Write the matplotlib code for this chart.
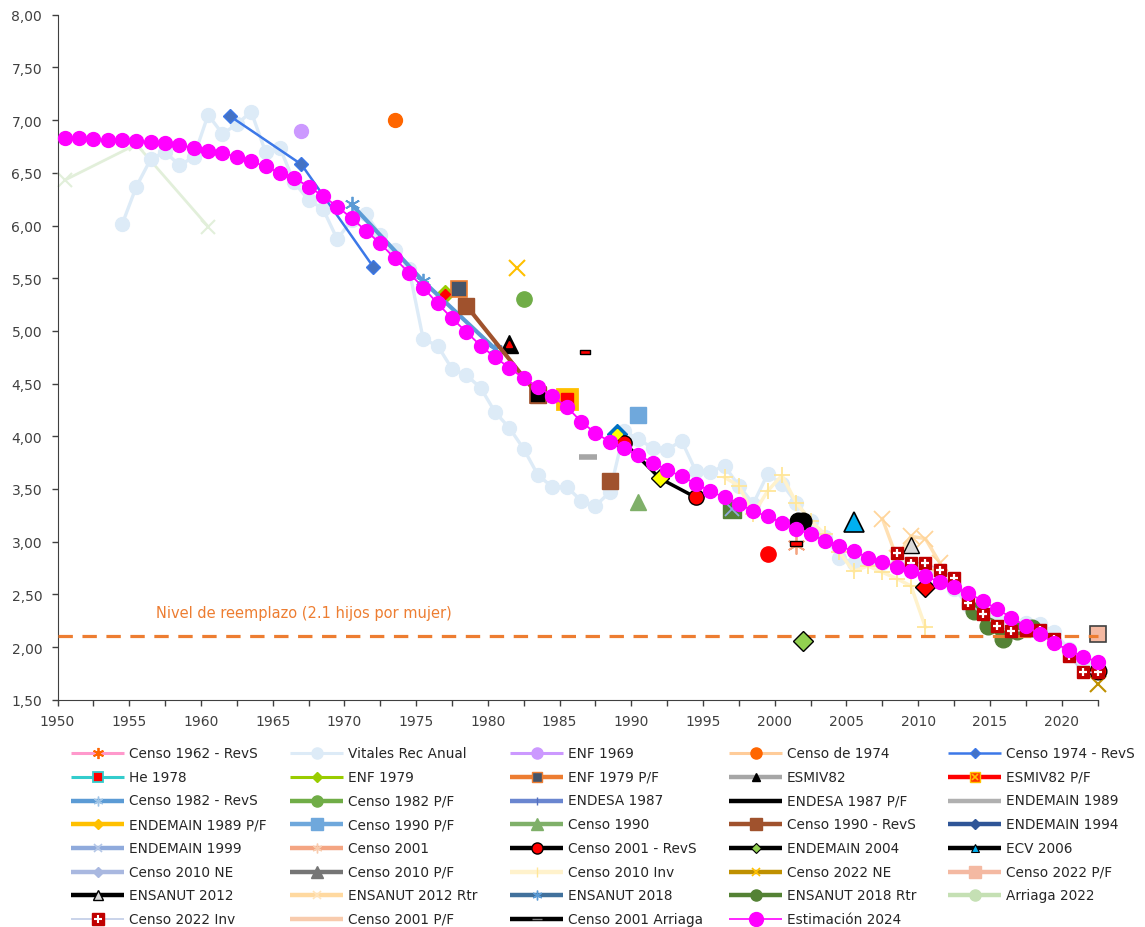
import numpy as np
import matplotlib
matplotlib.use("Agg")
from matplotlib import pyplot as plt
from matplotlib.lines import Line2D

plt.rcParams["font.family"] = "DejaVu Sans"

W, H = 1145, 928

# ---- data (TFR, hijos por mujer) ----
# annual series, plotted at mid-year
est_years = np.arange(1950, 2023)
est_tfr = [6.83, 6.83, 6.82, 6.81, 6.81, 6.80, 6.79, 6.78, 6.76, 6.74,
           6.71, 6.69, 6.65, 6.61, 6.56, 6.50, 6.45, 6.37, 6.28, 6.18,
           6.07, 5.95, 5.83, 5.69, 5.55, 5.41, 5.26, 5.12, 4.99, 4.86,
           4.75, 4.65, 4.55, 4.47, 4.38, 4.28, 4.14, 4.03, 3.95, 3.89,
           3.82, 3.75, 3.68, 3.62, 3.55, 3.48, 3.42, 3.36, 3.29, 3.24,
           3.18, 3.12, 3.07, 3.01, 2.96, 2.91, 2.85, 2.81, 2.76, 2.72,
           2.67, 2.62, 2.57, 2.51, 2.44, 2.36, 2.28, 2.20, 2.12, 2.04,
           1.97, 1.91, 1.86]

vitales_years = np.arange(1954, 2023)
vitales_tfr = [6.01, 6.37, 6.63, 6.70, 6.57, 6.65,
               7.05, 6.87, 6.96, 7.08, 6.70, 6.74, 6.41, 6.24, 6.16, 5.87,
               6.05, 6.11, 5.91, 5.77, 5.59, 4.92, 4.86, 4.64, 4.58, 4.46,
               4.23, 4.08, 3.88, 3.63, 3.52, 3.52, 3.39, 3.34, 3.47, 4.05,
               3.97, 3.89, 3.87, 3.96, 3.67, 3.66, 3.72, 3.53, 3.36, 3.64,
               3.55, 3.37, 3.20, 3.04, 2.85, 2.80, 2.83, 2.80, 2.78, 2.75,
               2.70, 2.62, 2.55, 2.40, 2.33, 2.26, 2.22, 2.23, 2.22, 2.14,
               1.98, 1.84, 1.80]

inv2010_years = np.arange(1996, 2011)
inv2010_tfr = [3.61, 3.53, 3.26, 3.48, 3.63, 3.37, 3.20, 3.07, 2.90, 2.72,
               2.77, 2.71, 2.65, 2.58, 2.19]

inv2022_years = np.arange(2008, 2023)
inv2022_tfr = [2.89, 2.80, 2.80, 2.73, 2.66, 2.42, 2.31, 2.20, 2.15, 2.16,
               2.16, 2.08, 1.92, 1.76, 1.76]

ensanut12rtr_years = np.arange(2007, 2012)
ensanut12rtr_tfr = [3.22, 2.85, 3.05, 3.03, 2.80]

# point estimates (reference date, TFR)
early_years, early_tfr = [1950.5, 1955.5, 1960.5], [6.43, 6.77, 5.99]
censo74revs_years, censo74revs_tfr = [1962, 1967, 1972], [7.04, 6.58, 5.61]
enf69_years, enf69_tfr = [1967], [6.90]
censo74_years, censo74_tfr = [1973.5], [7.00]
censo82revs_years, censo82revs_tfr = [1970.5, 1975.5, 1980.5], [6.20, 5.47, 4.83]
he78_years, he78_tfr = [1975.5], [5.42]
enf79_years, enf79_tfr = [1977], [5.35]
enf79pf_years, enf79pf_tfr = [1978], [5.40]
censo90revs_years, censo90revs_tfr = [1978.5, 1983.5], [5.24, 4.39]
censo90revs_late_years, censo90revs_late_tfr = [1988.5], [3.58]
censo82pf_years, censo82pf_tfr = [1982.5], [5.30]
gold_x_years, gold_x_tfr = [1982], [5.60]
esmiv82_years, esmiv82_tfr = [1981.5], [4.88]
endesa87pf_years, endesa87pf_tfr = [1986.75], [4.80]
endemain89pf_years, endemain89pf_tfr = [1985.5], [4.35]
endemain89_years, endemain89_tfr = [1987], [3.80]
censo90pf_years, censo90pf_tfr = [1990.5], [4.20]
censo90_years, censo90_tfr = [1990.5], [3.38]
endemain94_years, endemain94_tfr = [1989], [4.02]
censo01revs_years, censo01revs_tfr = [1989.5, 1992, 1994.5], [3.94, 3.60, 3.42]
red_dot_years, red_dot_tfr = [1999.5], [2.88]
endemain99_years, endemain99_tfr = [1997], [3.31]
censo01_years, censo01_tfr = [2001.5], [2.97]
arriaga01_years, arriaga01_tfr = [2001.5], [2.99]
black_dot_years, black_dot_tfr = [2001.6, 2002.0], [3.20, 3.20]
ecv06_years, ecv06_tfr = [2005.5], [3.19]
endemain04_years, endemain04_tfr = [2002], [2.06]
red_diamond_years, red_diamond_tfr = [2010.5], [2.57]
ensanut12_years, ensanut12_tfr = [2009.5], [2.97]
ensanut18rtr_years = [2013.9, 2014.9, 2015.9, 2016.9, 2017.9]
ensanut18rtr_tfr = [2.34, 2.20, 2.08, 2.15, 2.18]
censo22pf_years, censo22pf_tfr = [2022.5], [2.12]
censo22ne_years, censo22ne_tfr = [2022.5], [1.65]
red_ring_years, red_ring_tfr = [2022.5], [1.77]

replacement = 2.11

# ---- figure ----
fig = plt.figure(figsize=(W / 100, H / 100), dpi=100)
ax = fig.add_axes([57.5 / W, 1 - 700.8 / H, 1040 / W, 685.1 / H])

ax.axhline(replacement, color='#ED7D31', lw=2.3, ls=(0, (4.5, 3)), zorder=4)
ax.text(1956.9, 2.33, 'Nivel de reemplazo (2.1 hijos por mujer)', color='#ED7D31',
        fontsize=10.5, va='center', ha='left')

ax.plot(early_years, early_tfr, color='#E2EFDA', lw=2, marker='x', ms=10, mew=1.5, zorder=2)
ax.plot(vitales_years + 0.5, vitales_tfr, color='#DDEBF7', lw=2.4, marker='o', ms=10,
        mfc='#DDEBF7', mec='#DDEBF7', zorder=2)
ax.plot(enf69_years, enf69_tfr, ls='none', marker='o', ms=10, mfc='#CC99FF', mec='#CC99FF', zorder=3)
ax.plot(censo74_years, censo74_tfr, ls='none', marker='o', ms=10, mfc='#FF6600', mec='#FF6600', zorder=3)
ax.plot(censo74revs_years, censo74revs_tfr, color='#3C78E8', lw=1.8, marker='D', ms=7,
        mfc='#4472C4', mec='#3C78E8', zorder=3)
ax.plot(he78_years, he78_tfr, ls='none', marker='s', ms=7, mfc='#FF0000', mec='#33CCCC', mew=1.3, zorder=3)
ax.plot(enf79_years, enf79_tfr, ls='none', marker='D', ms=9, mfc='#99CC00', mec='#99CC00', zorder=3)
ax.plot(enf79_years, enf79_tfr, ls='none', marker='D', ms=5, mfc='#FF0000', mec='#FF0000', zorder=3.1)
ax.plot(enf79pf_years, enf79pf_tfr, ls='none', marker='s', ms=11, mfc='#44546A', mec='#ED7D31',
        mew=1.2, zorder=3)
ax.plot(esmiv82_years, esmiv82_tfr, ls='none', marker='^', ms=13, mfc='black', mec='black', zorder=3)
ax.plot(esmiv82_years, esmiv82_tfr, ls='none', marker='^', ms=5, mfc='#FF0000', mec='#FF0000', zorder=3.1)
ax.plot(censo82revs_years, censo82revs_tfr, color='#5B9BD5', lw=3, marker=(6, 2, 0), ms=11,
        mec='#5B9BD5', mew=1.3, zorder=3)
ax.plot(censo82pf_years, censo82pf_tfr, ls='none', marker='o', ms=11, mfc='#70AD47', mec='#70AD47', zorder=3)
ax.plot(gold_x_years, gold_x_tfr, ls='none', marker='x', ms=11, mec='#FFC000', mew=1.5, zorder=3)
dash_marker = [(-1, -0.4), (1, -0.4), (1, 0.4), (-1, 0.4), (-1, -0.4)]
ax.plot(endesa87pf_years, endesa87pf_tfr, ls='none', marker=dash_marker, ms=7, mfc='#FF0000',
        mec='black', mew=1, zorder=3)
ax.plot(endemain89_years, endemain89_tfr, ls='none', marker='_', ms=13, mec='#A6A6A6', mew=4, zorder=3)
ax.plot(endemain89pf_years, endemain89pf_tfr, ls='none', marker='s', ms=15, mfc='#FFC000',
        mec='#FFC000', mew=2, zorder=3)
ax.plot(endemain89pf_years, endemain89pf_tfr, ls='none', marker='s', ms=9, mfc='#FF0000',
        mec='#FF0000', zorder=3.1)
ax.plot(censo90pf_years, censo90pf_tfr, ls='none', marker='s', ms=11, mfc='#6FA8DC', mec='#6FA8DC', zorder=3)
ax.plot(censo90_years, censo90_tfr, ls='none', marker='^', ms=12, mfc='#7FB069', mec='#7FB069', zorder=3)
ax.plot(censo90revs_years, censo90revs_tfr, color='#A0522D', lw=3, marker='s', ms=12,
        mfc='#A0522D', mec='#A0522D', zorder=3)
ax.plot(censo90revs_years[-1:], censo90revs_tfr[-1:], ls='none', marker='s', ms=11, mfc='black',
        mec='#A0522D', mew=1.2, zorder=3.1)
ax.plot(censo90revs_late_years, censo90revs_late_tfr, ls='none', marker='s', ms=11, mfc='#A0522D',
        mec='#A0522D', zorder=3)
ax.plot(endemain94_years, endemain94_tfr, ls='none', marker='D', ms=10, mfc='#0070C0', mec='#0070C0', zorder=3)
ax.plot(endemain94_years, endemain94_tfr, ls='none', marker='D', ms=5, mfc='#FFFF00', mec='#FFFF00', zorder=3.1)
ax.plot(endemain99_years, endemain99_tfr, ls='none', marker='s', ms=13, mfc='#548235', mec='#548235', zorder=3)
ax.plot(endemain99_years, endemain99_tfr, ls='none', marker='x', ms=10, mec='#8FAADC', mew=1.3, zorder=3.1)
ax.plot(censo01revs_years, censo01revs_tfr, color='black', lw=2.5, marker='o', ms=11,
        mfc='#FF0000', mec='black', mew=1, markevery=[0, 2], zorder=3)
ax.plot(censo01revs_years[1:2], censo01revs_tfr[1:2], ls='none', marker='D', ms=9, mfc='#FFFF00',
        mec='black', mew=1, zorder=3.1)
ax.plot(red_dot_years, red_dot_tfr, ls='none', marker='o', ms=11, mfc='#FF0000', mec='#FF0000', zorder=3)
ax.plot(censo01_years, censo01_tfr, ls='none', marker=(6, 2, 0), ms=13, mec='#F4A582', mew=1.3, zorder=3)
ax.plot(arriaga01_years, arriaga01_tfr, ls='none', marker=dash_marker, ms=9, mfc='#FF0000',
        mec='black', mew=1, zorder=3.1)
ax.plot(black_dot_years, black_dot_tfr, ls='none', marker='o', ms=12, mfc='black', mec='black', zorder=3)
ax.plot(ecv06_years, ecv06_tfr, ls='none', marker='^', ms=14, mfc='#00B0F0', mec='black', mew=1.2, zorder=3)
ax.plot(endemain04_years, endemain04_tfr, ls='none', marker='D', ms=10, mfc='#92D050', mec='black',
        mew=1, zorder=5)
ax.plot(inv2010_years + 0.5, inv2010_tfr, color='#FFF2CC', lw=2.5, marker='+', ms=12, mec='#FFE699',
        mew=1.3, zorder=2.5)
ax.plot(ensanut12rtr_years + 0.5, ensanut12rtr_tfr, color='#FFE0B3', lw=2.5, marker='x', ms=11,
        mec='#FFD59A', mew=1.3, zorder=2.6)
ax.plot(ensanut12_years, ensanut12_tfr, ls='none', marker='^', ms=11, mfc='#D9D9D9', mec='black',
        mew=1, zorder=3)
ax.plot(red_diamond_years, red_diamond_tfr, ls='none', marker='D', ms=10, mfc='#FF0000', mec='black',
        mew=1, zorder=3)
ax.plot(ensanut18rtr_years, ensanut18rtr_tfr, color='#548235', lw=2.5, marker='o', ms=12,
        mfc='#548235', mec='#548235', zorder=3)
ax.plot(censo22pf_years, censo22pf_tfr, ls='none', marker='s', ms=12, mfc='#F4B9A2', mec='#404040',
        mew=1.2, zorder=3)
ax.plot(censo22ne_years, censo22ne_tfr, ls='none', marker='x', ms=12, mec='#BF9000', mew=1.5, zorder=3)
ax.plot(red_ring_years, red_ring_tfr, ls='none', marker='o', ms=12, mfc='#FF0000', mec='black', mew=1, zorder=3)
ax.plot(inv2022_years + 0.5, inv2022_tfr, color='#C9D3EA', lw=1.2, marker='s', ms=8.5,
        mfc='#C00000', mec='#C00000', zorder=5)
ax.plot(inv2022_years + 0.5, inv2022_tfr, ls='none', marker='+', ms=6, mec='white', mew=1.6, zorder=5.1)
ax.plot(est_years + 0.5, est_tfr, color='#FF00FF', lw=1.3, marker='o', ms=10,
        mfc='#FF00FF', mec='#FF00FF', zorder=6)

# markers at the edges are not cut off in the original
for ln in ax.lines:
    ln.set_clip_on(False)

# ---- axes ----
ax.set_xlim(1950, 2022.5)
ax.set_ylim(1.5, 8)
xt = np.arange(1950, 2023, 2.5)
ax.set_xticks(xt)
ax.set_xticklabels([str(int(t)) if t % 5 == 0 else '' for t in xt])
yt = np.arange(1.5, 8.01, 0.5)
ax.set_yticks(yt)
ax.set_yticklabels([('%.2f' % t).replace('.', ',') for t in yt])
for s in ['top', 'right']:
    ax.spines[s].set_visible(False)
for s in ['left', 'bottom']:
    ax.spines[s].set_color('#404040')
ax.tick_params(axis='both', direction='out', length=4, width=1, color='#404040',
               labelsize=10, labelcolor='#404040')
ax.tick_params(axis='y', pad=7)
ax.tick_params(axis='x', pad=6)

# ---- legend (drawn by hand, 5 columns x 8 rows) ----
legend_items = [
    ("Censo 1962 - RevS", '#FF99CC', 2.2, [dict(marker=(6, 2, 0), ms=8, mec='#FF6600', mew=1.3)]),
    ("Vitales Rec Anual", '#DDEBF7', 2.2, [dict(marker='o', ms=8, mfc='#DDEBF7', mec='#DDEBF7')]),
    ("ENF 1969", '#CC99FF', 2.2, [dict(marker='o', ms=8, mfc='#CC99FF', mec='#CC99FF')]),
    ("Censo de 1974", '#FFCC99', 2.2, [dict(marker='o', ms=8, mfc='#FF6600', mec='#FF6600')]),
    ("Censo 1974 - RevS", '#3C78E8', 1.8, [dict(marker='D', ms=5, mfc='#4472C4', mec='#3C78E8')]),
    ("He 1978", '#33CCCC', 2.2, [dict(marker='s', ms=7, mfc='#FF0000', mec='#33CCCC', mew=1.3)]),
    ("ENF 1979", '#99CC00', 2.2, [dict(marker='D', ms=5, mfc='#99CC00', mec='#99CC00')]),
    ("ENF 1979 P/F", '#ED7D31', 3.2, [dict(marker='s', ms=7, mfc='#44546A', mec='#ED7D31', mew=1)]),
    ("ESMIV82", '#A6A6A6', 3.2, [dict(marker='^', ms=6, mfc='black', mec='black')]),
    ("ESMIV82 P/F", '#FF0000', 3.2, [dict(marker='s', ms=7, mfc='#FF3300', mec='#FFC000', mew=1),
                                     dict(marker='x', ms=5, mec='#FFC000', mew=1.2)]),
    ("Censo 1982 - RevS", '#5B9BD5', 3.2, [dict(marker=(6, 2, 0), ms=7, mec='#9DC3E6', mew=1)]),
    ("Censo 1982 P/F", '#70AD47', 3.2, [dict(marker='o', ms=8, mfc='#70AD47', mec='#70AD47')]),
    ("ENDESA 1987", '#6A86D0', 3.2, [dict(marker='|', ms=6, mec='#5470C0', mew=1)]),
    ("ENDESA 1987 P/F", 'black', 3.2, []),
    ("ENDEMAIN 1989", '#B0B0B0', 3.2, []),
    ("ENDEMAIN 1989 P/F", '#FFC000', 3.2, [dict(marker='D', ms=5, mfc='#FFC000', mec='#FFC000')]),
    ("Censo 1990 P/F", '#6FA8DC', 3.2, [dict(marker='s', ms=8, mfc='#6FA8DC', mec='#6FA8DC')]),
    ("Censo 1990", '#7FB069', 3.2, [dict(marker='^', ms=8, mfc='#7FB069', mec='#7FB069')]),
    ("Censo 1990 - RevS", '#A0522D', 3.2, [dict(marker='s', ms=8, mfc='#A0522D', mec='#A0522D')]),
    ("ENDEMAIN 1994", '#2F5597', 3.2, [dict(marker='D', ms=5, mfc='#2F5597', mec='#2F5597')]),
    ("ENDEMAIN 1999", '#8FAADC', 3.2, [dict(marker='x', ms=6, mec='#B4C7E7', mew=1.2)]),
    ("Censo 2001", '#F4A582', 3.2, [dict(marker=(6, 2, 0), ms=7, mec='#F8CBAD', mew=1)]),
    ("Censo 2001 - RevS", 'black', 3.2, [dict(marker='o', ms=8, mfc='#FF0000', mec='black', mew=1)]),
    ("ENDEMAIN 2004", 'black', 3.2, [dict(marker='D', ms=5, mfc='#92D050', mec='black', mew=0.8)]),
    ("ECV 2006", 'black', 3.2, [dict(marker='^', ms=6, mfc='#00B0F0', mec='black', mew=0.8)]),
    ("Censo 2010 NE", '#A9B8E0', 3.2, [dict(marker='D', ms=5, mfc='#A9B8E0', mec='#A9B8E0')]),
    ("Censo 2010 P/F", '#757575', 3.2, [dict(marker='^', ms=8, mfc='#757575', mec='#757575')]),
    ("Censo 2010 Inv", '#FFF2CC', 3.2, [dict(marker='|', ms=7, mec='#FFE699', mew=1)]),
    ("Censo 2022 NE", '#BF9000', 3.2, [dict(marker='x', ms=6, mec='#FFC000', mew=1.2)]),
    ("Censo 2022 P/F", '#F4B9A2', 3.2, [dict(marker='s', ms=8, mfc='#F4B9A2', mec='#F4B9A2')]),
    ("ENSANUT 2012", 'black', 3.2, [dict(marker='^', ms=7, mfc='#D9D9D9', mec='black', mew=1)]),
    ("ENSANUT 2012 Rtr", '#FFD9A0', 3.2, [dict(marker='x', ms=6, mec='#FFE4BC', mew=1.2)]),
    ("ENSANUT 2018", '#41719C', 3.2, [dict(marker=(6, 2, 0), ms=7, mec='#5B9BD5', mew=1)]),
    ("ENSANUT 2018 Rtr", '#548235', 3.2, [dict(marker='o', ms=8, mfc='#548235', mec='#548235')]),
    ("Arriaga 2022", '#C5E0B4', 3.2, [dict(marker='o', ms=8, mfc='#C5E0B4', mec='#C5E0B4')]),
    ("Censo 2022 Inv", '#C9D3EA', 1.4, [dict(marker='s', ms=8, mfc='#C00000', mec='#C00000'),
                                        dict(marker='+', ms=6, mec='white', mew=1.5)]),
    ("Censo 2001 P/F", '#F8CBAD', 3.2, []),
    ("Censo 2001 Arriaga", 'black', 3.2, [dict(marker='_', ms=7, mec='#7F7F7F', mew=1)]),
    ("Estimación 2024", '#FF00FF', 1.2, [dict(marker='o', ms=10, mfc='#FF00FF', mec='#FF00FF')]),
]

col_x = [71, 290, 510, 729, 948]
row_y = [754, 777.7, 801.5, 825.3, 849, 872.7, 896.3, 920]
for i, (label, lc, lw, marks) in enumerate(legend_items):
    r, c = divmod(i, 5)
    x0, y = col_x[c], row_y[r]
    yf = 1 - y / H
    fig.add_artist(Line2D([x0 / W, (x0 + 53) / W], [yf, yf], color=lc, lw=lw,
                          solid_capstyle='butt'))
    for m in marks:
        fig.add_artist(Line2D([(x0 + 26.5) / W], [yf], ls='none', **m))
    fig.text((x0 + 58) / W, yf, label, fontsize=9.8, color='#262626', va='center', ha='left')

fig.savefig("out.png", dpi=100)
